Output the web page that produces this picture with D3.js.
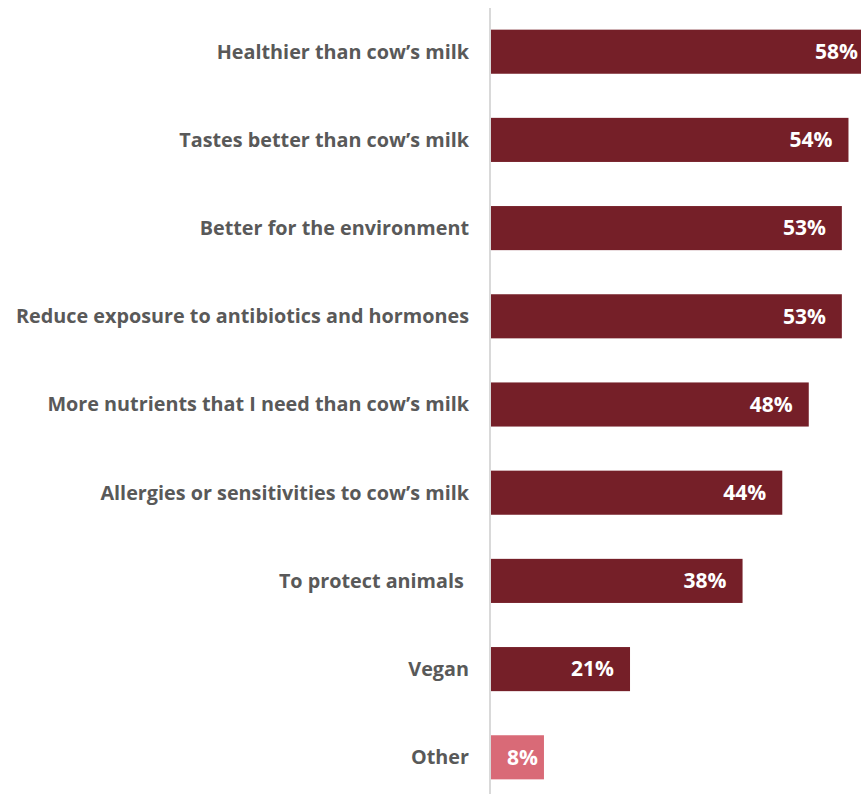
<!DOCTYPE html>
<html>
<head>
<meta charset="utf-8">
<script src="https://cdn.jsdelivr.net/npm/d3@7"></script>
<style>
  body { margin: 0; background: #fff; }
  svg { display: block; }
  text { white-space: pre; }
</style>
</head>
<body>
<div id="container"></div>
<script>
let w = 861;
let h = 794;

let categories = [
  "Healthier than cow\u2019s milk",
  "Tastes better than cow\u2019s milk",
  "Better for the environment",
  "Reduce exposure to antibiotics and hormones",
  "More nutrients that I need than cow\u2019s milk",
  "Allergies or sensitivities to cow\u2019s milk",
  "To protect animals ",
  "Vegan",
  "Other"
];
let values = [58, 54, 53, 53, 48, 44, 38, 21, 8];
let barColors = ["#751f28", "#751f28", "#751f28", "#751f28", "#751f28", "#751f28", "#751f28", "#751f28", "#d96a77"];

let x0 = 491;

let viz = d3.select('#container')
  .append('svg')
    .attr('width', w)
    .attr('height', h)
    .style('background-color', 'white')
;

let xScale = d3.scaleLinear().domain([0, 10]).range([x0, x0 + 66.2]);
let yScale = d3.scaleBand().domain(categories).range([7.6, 801.4]).paddingInner(0.5).paddingOuter(0.25);

// axis line
viz.append('line')
  .attr('x1', 490).attr('x2', 490)
  .attr('y1', 8).attr('y2', h)
  .attr('stroke', '#d9d9d9')
  .attr('stroke-width', 2)
;

let data = categories.map(function(c, i){ return {cat: c, val: values[i], col: barColors[i]}; });

viz.append('g').selectAll('rect').data(data).enter().append('rect')
  .attr('x', x0)
  .attr('y', function(d){ return yScale(d.cat); })
  .attr('width', function(d){ return xScale(d.val) - x0; })
  .attr('height', yScale.bandwidth())
  .attr('fill', function(d){ return d.col; })
;

viz.append('g').selectAll('text').data(data).enter().append('text')
  .attr('x', 469)
  .attr('y', function(d){ return yScale(d.cat) + yScale.bandwidth() / 2; })
  .attr('dy', '0.35em')
  .attr('text-anchor', 'end')
  .attr('font-family', '"Open Sans", sans-serif')
  .attr('font-weight', 700)
  .attr('font-size', '19.8px')
  .attr('fill', '#595959')
  .text(function(d){ return d.cat; })
;

let vals = viz.append('g').selectAll('text').data(data).enter().append('text')
  .attr('y', function(d){ return yScale(d.cat) + yScale.bandwidth() / 2; })
  .attr('dy', '0.35em')
  .attr('text-anchor', 'end')
  .attr('font-family', '"Open Sans", sans-serif')
  .attr('font-weight', 700)
  .attr('font-size', '21px')
  .attr('fill', 'white')
  .text(function(d){ return d.val + '%'; })
;

vals.attr('x', function(d){
  let tw = this.getComputedTextLength();
  let end = xScale(d.val) - 16;
  end = Math.max(end, x0 + 16 + tw);
  return Math.min(end, w - 3);
});
</script>
</body>
</html>
